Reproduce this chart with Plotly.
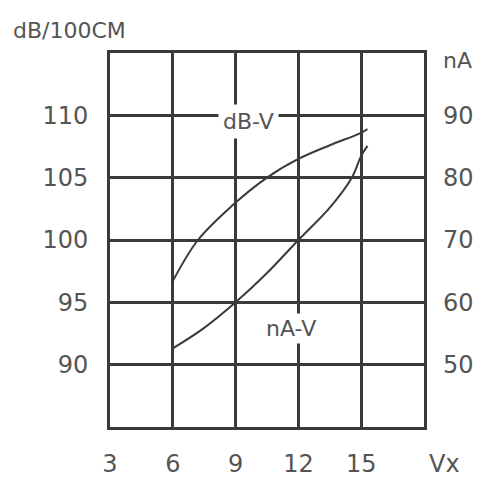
import plotly.graph_objects as go

# ── Data ──────────────────────────────────────────────────────────────────────
DB_V_X = [6.0, 7.2, 8.8, 10.5, 12.0, 13.5, 15.0, 15.3]
DB_V_Y = [96.7, 100.0, 102.7, 105.0, 106.5, 107.6, 108.6, 108.9]

NA_V_X = [6.0, 7.5, 9.0, 10.5, 12.0, 13.5, 14.55, 15.0, 15.3]
NA_V_Y = [52.6, 55.9, 60.0, 64.7, 70.0, 75.2, 80.0, 83.5, 85.1]

X_TICKS = [3, 6, 9, 12, 15]
DB_TICKS = [90, 95, 100, 105, 110]
NA_TICKS = [50, 60, 70, 80, 90]

LINE_COLOR = "#3a3a3a"
TEXT_COLOR = "#555555"
FONT = "DejaVu Sans"

fig = go.Figure()
fig.add_trace(go.Scatter(x=DB_V_X, y=DB_V_Y, mode="lines",
                         line=dict(color=LINE_COLOR, width=2, shape="spline"),
                         yaxis="y", showlegend=False))
fig.add_trace(go.Scatter(x=NA_V_X, y=NA_V_Y, mode="lines",
                         line=dict(color=LINE_COLOR, width=2, shape="spline"),
                         yaxis="y2", showlegend=False))

axis_common = dict(
    showline=True, linecolor=LINE_COLOR, linewidth=3,
    gridcolor=LINE_COLOR, gridwidth=3, zeroline=False,
    tickfont=dict(family=FONT, size=24, color=TEXT_COLOR),
    ticks="", ticklabelstandoff=18, fixedrange=True, automargin=False,
)

# page body has an 8px margin, so the figure is a little smaller than the window
fig.update_layout(
    width=473, height=471,
    paper_bgcolor="white", plot_bgcolor="white",
    margin=dict(l=102, r=57, t=45, b=52),
    xaxis=dict(range=[3, 18], tickvals=X_TICKS, mirror=True, showgrid=True,
               **{**axis_common, "ticklabelstandoff": 13}),
    yaxis=dict(range=[85, 115], tickvals=DB_TICKS, mirror=True, showgrid=True,
               **{**axis_common, "ticklabelstandoff": 14}),
    yaxis2=dict(range=[40, 100], tickvals=NA_TICKS, overlaying="y", side="right",
                showgrid=False, **{**axis_common, "showline": False}),
    annotations=[
        dict(text="dB/100CM", xref="paper", yref="paper", x=-0.315, y=1.06,
             xanchor="left", yanchor="middle", showarrow=False,
             font=dict(family=FONT, size=22, color=TEXT_COLOR)),
        dict(text="nA", xref="paper", yref="paper", x=1.055, y=0.98,
             xanchor="left", yanchor="middle", showarrow=False,
             font=dict(family=FONT, size=22, color=TEXT_COLOR)),
        dict(text="Vx", xref="paper", yref="paper", x=1.065, y=-0.1,
             xanchor="center", yanchor="middle", showarrow=False,
             font=dict(family=FONT, size=24, color=TEXT_COLOR)),
        dict(text="dB-V", x=9.6, y=109.5, xref="x", yref="y", showarrow=False,
             bgcolor="white", borderpad=4,
             font=dict(family=FONT, size=22, color=TEXT_COLOR)),
        dict(text="nA-V", x=11.65, y=92.9, xref="x", yref="y", showarrow=False,
             bgcolor="white", borderpad=2,
             font=dict(family=FONT, size=22, color=TEXT_COLOR)),
    ],
)

fig.write_html("out.html")
